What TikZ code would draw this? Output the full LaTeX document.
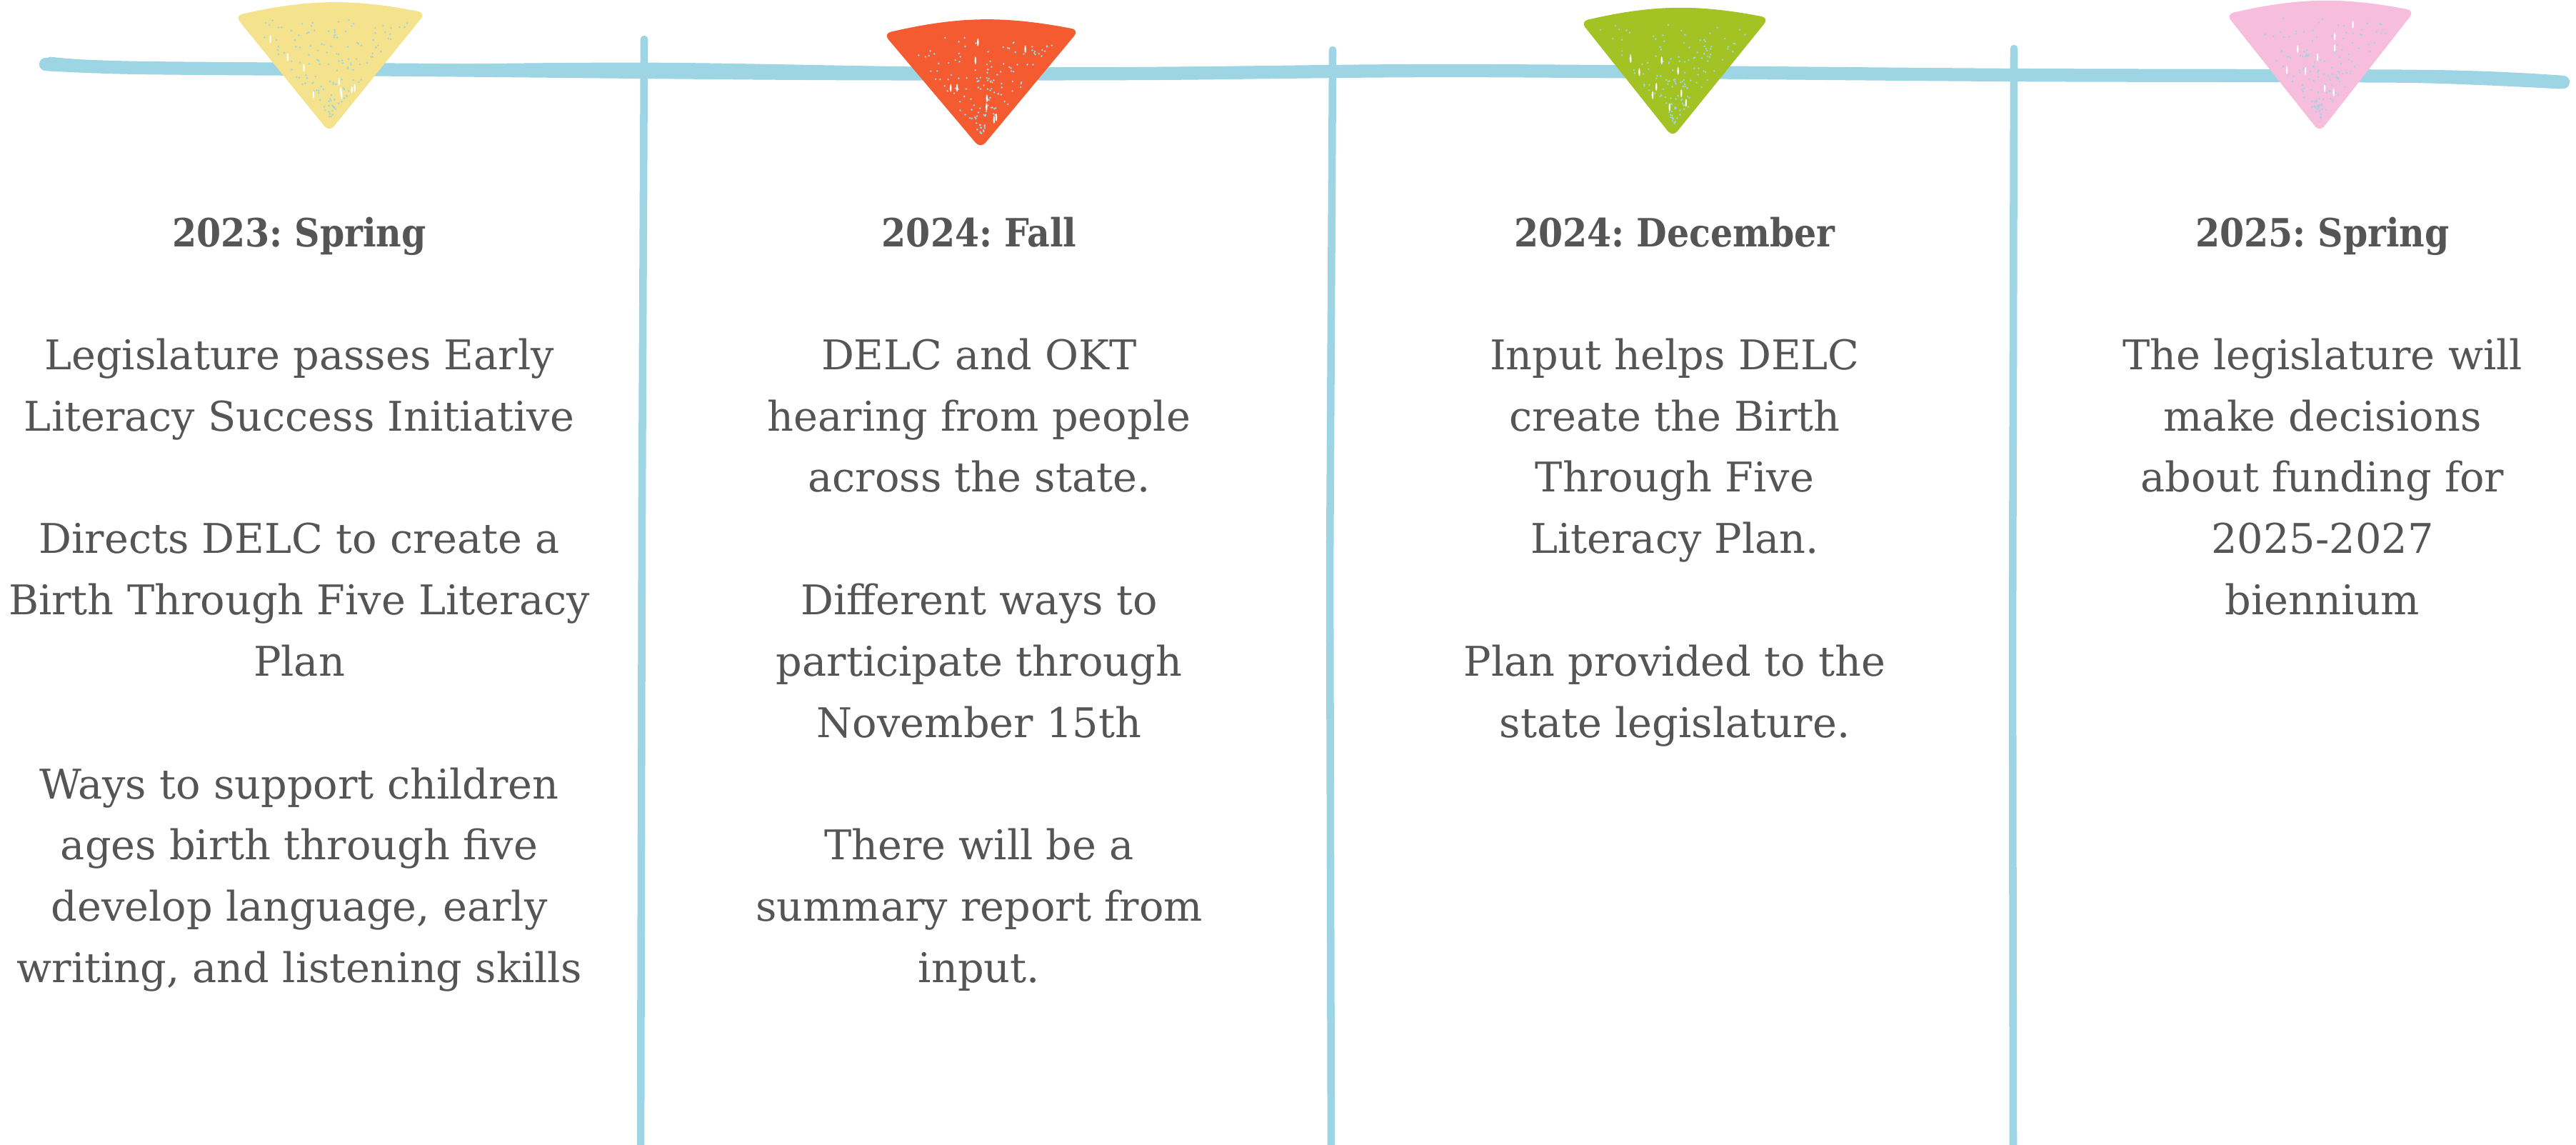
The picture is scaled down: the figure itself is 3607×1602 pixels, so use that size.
\documentclass[tikz,border=0pt]{standalone}
\usepackage{fontspec}
\setmainfont{DejaVu Serif}
\newfontfamily\headfont{DejaVu Serif Condensed}
\usetikzlibrary{positioning}
\definecolor{ropeblue}{HTML}{9DD5E4}
\definecolor{ink}{HTML}{555555}
\definecolor{flagyellow}{HTML}{F5E28C}
\definecolor{flagorange}{HTML}{F55B30}
\definecolor{flaggreen}{HTML}{A3C224}
\definecolor{flagpink}{HTML}{F7BDDC}
\tikzset{
  rope/.style={draw=ropeblue, line width=5.2pt, line cap=round, line join=round},
  pole/.style={draw=ropeblue, line width=3pt, line cap=round},
  flag/.style={rounded corners=3pt},
  title/.style={text=ink, anchor=base, font=\headfont\bfseries\fontsize{15.5}{24.4}\selectfont},
  entry/.style={text=ink, align=center, inner sep=0pt, font=\fontsize{16.3}{24.4}\selectfont},
}
\frenchspacing

\begin{document}
\begin{tikzpicture}[x=0.01cm, y=-0.01cm]
		\useasboundingbox (0,0) rectangle (3607,1602);
		\pgfmathsetseed{7}
		
		% poles
		\draw[pole] (902,55) -- (899,700) -- (897,1640);
		\draw[pole] (1866,70) -- (1862,800) -- (1864,1640);
		\draw[pole] (2820,68) -- (2818,900) -- (2819,1640);
		
		% rope, with a rougher second stroke
		\draw[rope] plot[smooth] coordinates {(64,90) (200,95) (600,98) (1150,103) (1600,103) (2050,99) (2820,105) (3400,107) (3589,115)};
		\draw[rope, line width=2.5pt] plot[smooth] coordinates {(70,84) (180,92) (420,96) (900,92) (1400,99) (2000,96) (2500,101) (3000,103) (3400,112) (3585,120)};
		
		% flags
		\fill[flagyellow, flag] (329,22) to[bend left=12] (596,18) -- (461,185) -- cycle;
		\fill[flagorange, flag] (1237,47) to[bend left=12] (1511,42) -- (1373,208) -- cycle;
		\fill[flaggreen, flag] (2213,30) to[bend left=12] (2477,25) -- (2342,192) -- cycle;
		\fill[flagpink, flag] (3117,20) to[bend left=12] (3381,15) -- (3248,185) -- cycle;
		
		% speckles on the flags
		\foreach \cx/\ty/\hw/\tip in {462/20/133/177, 1374/44/137/202, 2345/27/132/185, 3249/17/132/177} {
			\foreach \i in {1,...,140} {
				\pgfmathsetmacro\t{rnd}
				\pgfmathsetmacro\s{rand}
				\fill[ropeblue] ({\cx+\s*\hw*(1-\t)*0.85}, {\ty+8+\t*(\tip-\ty-20)}) circle[radius=0.4pt];
			}
			\foreach \i in {1,...,9} {
				\pgfmathsetmacro\t{rnd*0.8}
				\pgfmathsetmacro\s{rand}
				\fill[white] ({\cx+\s*\hw*(1-\t)*0.75}, {\ty+14+\t*(\tip-\ty-20)}) ellipse[x radius=0.35pt, y radius=1.6pt];
			}
		}
		
		% headings
		\node(h1) [title] at (419,345) {2023: Spring};
		\node(h2) [title] at (1371,345) {2024: Fall};
		\node(h3) [title] at (2345,345) {2024: December};
		\node(h4) [title] at (3252,345) {2025: Spring};
		
		% entries
		\node(b1) [entry, below=1.28cm of h1.base] {Legislature passes Early\\Literacy Success Initiative\\[24.4pt]
			Directs DELC to create a\\Birth Through Five Literacy\\Plan\\[24.4pt]
			Ways to support children\\ages birth through five\\develop language, early\\writing, and listening skills};
		\node(b2) [entry, below=1.28cm of h2.base] {DELC and OKT\\hearing from people\\across the state.\\[24.4pt]
			Different ways to\\participate through\\November 15th\\[24.4pt]
			There will be a\\summary report from\\input.};
		\node(b3) [entry, below=1.28cm of h3.base] {Input helps DELC\\create the Birth\\Through Five\\Literacy Plan.\\[24.4pt]
			Plan provided to the\\state legislature.};
		\node(b4) [entry, below=1.28cm of h4.base] {The legislature will\\make decisions\\about funding for\\2025-2027\\biennium};
		
\end{tikzpicture}
\end{document}
